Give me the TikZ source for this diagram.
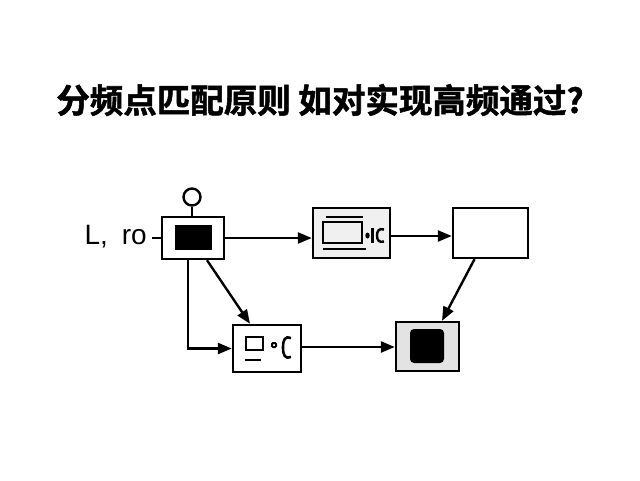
\documentclass[tikz,border=0pt]{standalone}
\usepackage{fontspec}
\setmainfont{Liberation Sans}
\newfontfamily\cjkbold[FakeBold=1.5]{Noto Sans CJK SC Bold}
\usetikzlibrary{arrows.meta}
\begin{document}
\begin{tikzpicture}[x=1pt,y=-1pt,
  lw/.style={line width=2.4pt},
  box/.style={draw=black,lw,inner sep=0pt,minimum width=#1},
  arr/.style={lw,-{Triangle[length=14pt,width=11pt]}},
  ink/.style={fill=black,draw=none}]
\useasboundingbox (0,0) rectangle (640,480);
\fill[white] (0,0) rectangle (640,480);
% title
\node[font=\cjkbold\fontsize{33.5}{37}\selectfont] (title) at (320,100) {分频点匹配原则 如对实现高频通过?};
% label
\node[anchor=east,inner sep=0pt,font=\fontsize{28}{30}\selectfont] (lab) at (147,237) {L,\hspace{14pt}ro};
% boxes
\node[box=62pt,minimum height=42pt] (A) at (193,238) {};
\node[box=77pt,minimum height=50pt,fill=gray!12] (B) at (351.5,233) {};
\node[box=75pt,minimum height=50pt] (C) at (490.5,233) {};
\node[box=63pt,minimum height=49pt,fill=gray!22] (D) at (427.5,346.5) {};
\node[box=68pt,minimum height=47pt] (E) at (267,348.5) {};
% A details
\fill (175,225) rectangle (212,250);
\node[circle,draw,lw,minimum size=17pt,inner sep=0pt] (knob) at (192,197) {};
\draw[lw] (knob.south) -- (A.north -| knob.south);
\coordinate (stub) at (152,238);
\draw[lw] (stub) -- (A.west);
% B details
\draw[lw] (323,222) rectangle (362,243);
\draw[lw] (326,217) -- (363,217);
\draw[lw] (323,249) -- (366,249);
\fill (367.5,235.5) ellipse (2.2pt and 3pt);
\draw[line width=2.4pt] (372.5,228) -- (372.5,243);
\draw[line width=2.4pt] (384,229.5) .. controls (379,228) and (377,231) .. (377,235.5) .. controls (377,240) and (379,243) .. (384,241.5);
% D details
\fill[rounded corners=4pt] (410,329) rectangle (444,363);
% E details
\draw[lw] (246,337) rectangle (263,350);
\draw[lw] (245,360) -- (261,360);
\draw[line width=2pt,rounded corners=1pt] (272,343) rectangle (276,347);
\draw[line width=2.6pt] (291,338) .. controls (285,335.5) and (283,340) .. (283,347.5) .. controls (283,355) and (285,359.5) .. (291,357);
% connectors
\draw[arr] (A.east) -- (A.east -| B.west);
\draw[arr] ([yshift=-3pt]B.east) -- ([yshift=-3pt]C.west);
\draw[arr] ([xshift=-16pt]C.south) -- ([xshift=14.5pt]D.north);
\draw[arr] ([xshift=-5pt]A.south) |- (E.west);
\draw[arr] ([xshift=14pt]A.south) -- ([xshift=-17pt]E.north);
\draw[arr] ([yshift=1.5pt]E.east) -- ([yshift=1.5pt]E.east -| D.west);
\end{tikzpicture}
\end{document}
